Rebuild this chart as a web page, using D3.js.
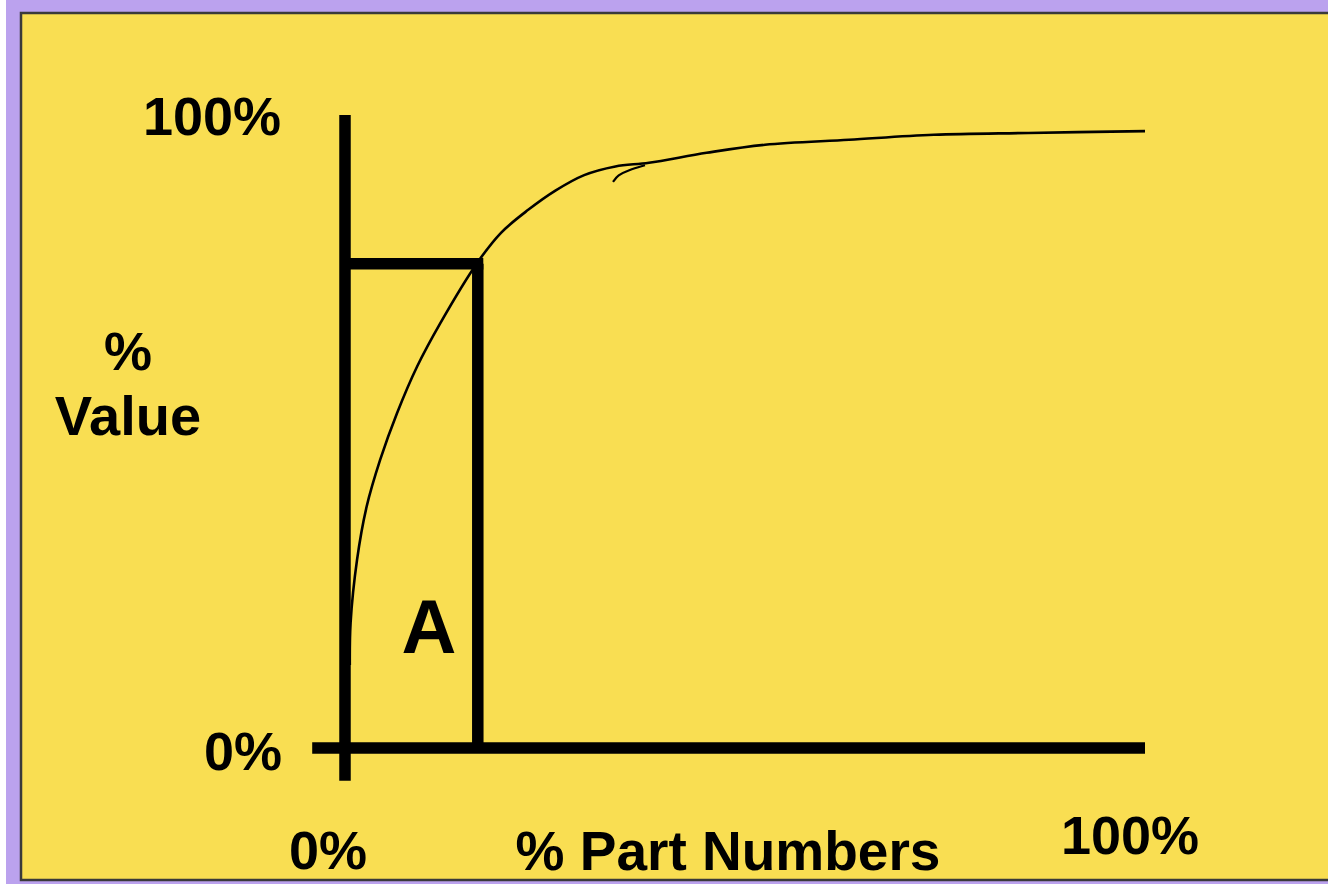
<!DOCTYPE html>
<html>
<head>
<meta charset="utf-8">
<script src="https://cdn.jsdelivr.net/npm/d3@7"></script>
<style>
  html, body { margin: 0; padding: 0; background: #ffffff; }
  svg { display: block; }
  text { font-family: "Liberation Sans", Arial, sans-serif; font-weight: bold; fill: #000; }
</style>
</head>
<body>
<div id="chart"></div>
<script>
// cumulative curve: % of part numbers vs % of value
var pctParts = [0.6, 0.7, 1.5, 2.7, 4.4, 6.5, 9.0, 11.9, 16.5, 19.5, 22.9, 26.3, 29.9, 33.8, 38.0, 45.2, 52.5, 63.0, 73.6, 85.4, 100];
var pctValue = [13.4, 20.2, 30.3, 38.9, 46.5, 54.0, 61.5, 68.5, 78.2, 83.1, 86.8, 89.9, 92.4, 93.8, 94.4, 96.0, 97.3, 98.1, 98.9, 99.2, 99.5];

// little pen hook near the knee of the curve
var hookParts = [33.5, 34.1, 35.4, 37.5];
var hookValue = [91.3, 92.4, 93.2, 94.0];

// "A" class cut-off
var cutParts = 16.6;
var cutValue = 78.1;

var yTickLabels = ["0%", "100%"];
var xTickLabels = ["0%", "100%"];

var svgWidth = 1328, svgHeight = 884;

var xScale = d3.scaleLinear().domain([0, 100]).range([345, 1145]);
var yScale = d3.scaleLinear().domain([0, 100]).range([748, 128]);

var svg = d3.select("#chart")
  .append("svg")
  .attr("width", svgWidth)
  .attr("height", svgHeight);

// frame
svg.append("rect").attr("x", 6).attr("y", 0).attr("width", svgWidth - 6).attr("height", svgHeight).attr("fill", "#bba2ee");
svg.append("rect")
  .attr("x", 21).attr("y", 13)
  .attr("width", svgWidth + 10).attr("height", 867)
  .attr("fill", "#f9de52")
  .attr("stroke", "#3a3a3a")
  .attr("stroke-width", 2.5);

// axes
svg.append("line")
  .attr("x1", xScale(0)).attr("x2", xScale(0))
  .attr("y1", yScale(-5.3)).attr("y2", yScale(102.1))
  .attr("stroke", "#000").attr("stroke-width", 11.5);

svg.append("line")
  .attr("x1", xScale(-4.1)).attr("x2", xScale(100))
  .attr("y1", yScale(0)).attr("y2", yScale(0))
  .attr("stroke", "#000").attr("stroke-width", 11.5);

// A box
svg.append("line")
  .attr("x1", xScale(0)).attr("x2", xScale(cutParts) + 5.5)
  .attr("y1", yScale(cutValue)).attr("y2", yScale(cutValue))
  .attr("stroke", "#000").attr("stroke-width", 11.5);

svg.append("line")
  .attr("x1", xScale(cutParts)).attr("x2", xScale(cutParts))
  .attr("y1", yScale(cutValue)).attr("y2", yScale(0))
  .attr("stroke", "#000").attr("stroke-width", 11.5);

// curve
var line = d3.line()
  .x(function(d) { return xScale(d[0]); })
  .y(function(d) { return yScale(d[1]); })
  .curve(d3.curveCatmullRom.alpha(0.5));

svg.append("path")
  .datum(d3.zip(pctParts, pctValue))
  .attr("d", line)
  .attr("fill", "none")
  .attr("stroke", "#000")
  .attr("stroke-width", 2.6);

svg.append("path")
  .datum(d3.zip(hookParts, hookValue))
  .attr("d", d3.line().x(function(d) { return xScale(d[0]); }).y(function(d) { return yScale(d[1]); }).curve(d3.curveBasis))
  .attr("fill", "none")
  .attr("stroke", "#000")
  .attr("stroke-width", 2.2);

// tick labels
svg.append("text").attr("x", 282).attr("y", yScale(0) + 22).attr("text-anchor", "end").attr("font-size", 54).text(yTickLabels[0]);
svg.append("text").attr("x", 281).attr("y", yScale(100) + 7).attr("text-anchor", "end").attr("font-size", 54).text(yTickLabels[1]);
svg.append("text").attr("x", 328).attr("y", 869).attr("text-anchor", "middle").attr("font-size", 54).text(xTickLabels[0]);
svg.append("text").attr("x", 1130).attr("y", 854).attr("text-anchor", "middle").attr("font-size", 54).text(xTickLabels[1]);

// axis titles
svg.append("text").attr("x", 128).attr("y", 370).attr("text-anchor", "middle").attr("font-size", 54).text("%");
svg.append("text").attr("x", 128).attr("y", 435).attr("text-anchor", "middle").attr("font-size", 56).text("Value");
svg.append("text").attr("x", 728).attr("y", 870).attr("text-anchor", "middle").attr("font-size", 55).text("% Part Numbers");

// class label
svg.append("text").attr("x", 429).attr("y", 653).attr("text-anchor", "middle").attr("font-size", 76).text("A");
</script>
</body>
</html>
